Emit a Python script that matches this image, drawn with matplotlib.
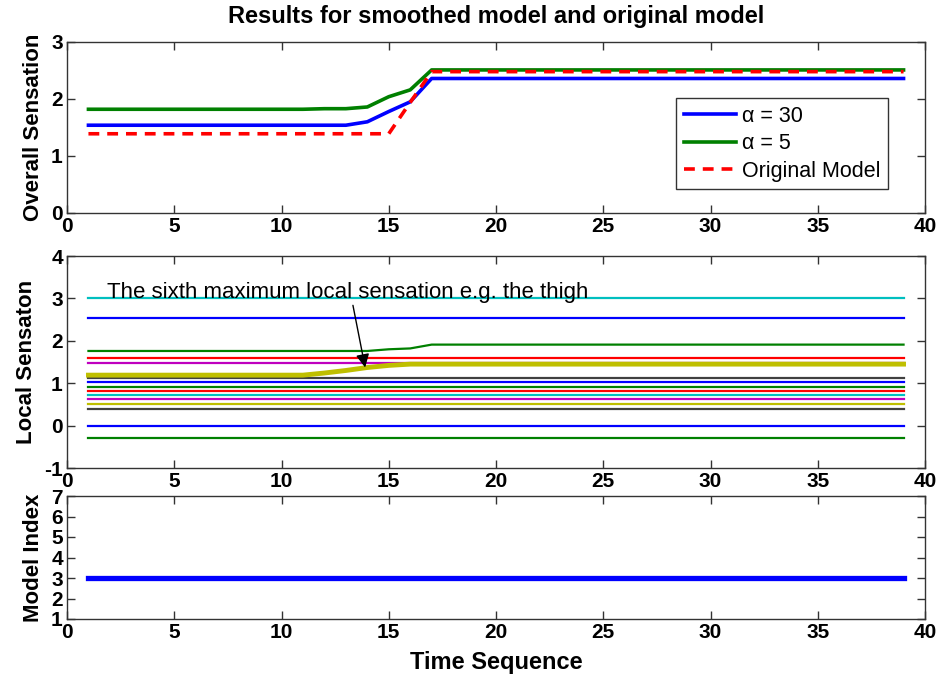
import numpy as np
import matplotlib
matplotlib.use("Agg")
import matplotlib.pyplot as plt

plt.rcParams['font.family'] = ['Liberation Sans', 'DejaVu Sans']
plt.rcParams['font.weight'] = 'bold'
plt.rcParams['axes.unicode_minus'] = False

# MATLAB-style colours
C_B = (0, 0, 1)
C_G = (0, 0.5, 0)
C_R = (1, 0, 0)
C_C = (0, 0.75, 0.75)
C_M = (0.75, 0, 0.75)
C_Y = (0.75, 0.75, 0)
C_K = (0.25, 0.25, 0.25)

t_span = [1, 39]

# --- top panel: overall sensation ---
a30_t = [1, 13, 14, 15, 16, 17, 39]
a30_v = [1.54, 1.54, 1.60, 1.78, 1.95, 2.36, 2.36]
a5_t = [1, 11, 12, 13, 14, 15, 16, 17, 39]
a5_v = [1.82, 1.82, 1.83, 1.83, 1.86, 2.04, 2.16, 2.51, 2.51]
orig_t = [1, 15, 16, 17, 39]
orig_v = [1.39, 1.39, 1.94, 2.48, 2.48]

# --- middle panel: local sensation ---
flat_levels = [3.02, 2.53, 1.60, 1.48, 1.12, 1.03, 0.90, 0.81, 0.71, 0.62, 0.50, 0.40, 0.0, -0.30]
flat_colors = [C_C, C_B, C_R, C_M, C_K, C_B, C_G, C_R, C_C, C_M, C_Y, C_K, C_B, C_G]
green_t = [1, 14, 15, 16, 17, 39]
green_v = [1.76, 1.76, 1.80, 1.82, 1.91, 1.91]
thigh_t = [1, 11, 12, 13, 14, 15, 16, 39]
thigh_v = [1.19, 1.19, 1.24, 1.30, 1.37, 1.42, 1.45, 1.45]

# --- bottom panel: model index ---
model_idx = [3, 3]

fig = plt.figure(figsize=(9.36, 6.78), dpi=100)
W = 936.0
H = 678.0
def box(l, t, r, b):
    return [l / W, 1 - b / H, (r - l) / W, (b - t) / H]

ax1 = fig.add_axes(box(67, 42, 925, 213))
ax2 = fig.add_axes(box(67, 256, 925, 468))
ax3 = fig.add_axes(box(67, 496, 925, 619))

for ax in (ax1, ax2, ax3):
    ax.set_xlim(0, 40)
    ax.set_xticks(range(0, 41, 5))
    ax.tick_params(direction='in', top=True, right=True, length=6, width=1,
                   labelsize=15, pad=3, color='0.2')
    for s in ax.spines.values():
        s.set_color('0.2')
        s.set_linewidth(1)

# top
ax1.plot(a30_t, a30_v, color=C_B, lw=2.6, label='α = 30')
ax1.plot(a5_t, a5_v, color=C_G, lw=2.6, label='α = 5')
ax1.plot(orig_t, orig_v, color=C_R, lw=2.6, dashes=(3, 2.2), label='Original Model')
ax1.set_ylim(0, 3)
ax1.set_yticks([0, 1, 2, 3])
ax1.set_ylabel('Overall Sensation', fontsize=16, fontweight='bold', labelpad=5)
ax1.set_title('Results for smoothed model and original model', fontsize=17,
              fontweight='bold', pad=14)
leg = ax1.legend(loc='upper right', bbox_to_anchor=(0.957, 0.67),
                 prop={'weight': 'normal', 'size': 15.5}, fancybox=False, framealpha=1,
                 edgecolor='0.2', handlelength=2.4, labelspacing=0.3, borderpad=0.35,
                 handletextpad=0.3, borderaxespad=0)
leg.get_frame().set_linewidth(1)

# middle
for lev, col in zip(flat_levels, flat_colors):
    ax2.plot(t_span, [lev, lev], color=col, lw=1.6)
ax2.plot(green_t, green_v, color=C_G, lw=1.6)
ax2.plot(thigh_t, thigh_v, color=C_Y, lw=3.5)
ax2.set_ylim(-1, 4)
ax2.set_yticks(range(-1, 5))
ax2.set_ylabel('Local Sensaton', fontsize=16, fontweight='bold', labelpad=5)
ax2.annotate('The sixth maximum local sensation e.g. the thigh',
             xy=(13.9, 1.37), xytext=(1.86, 3.02), fontsize=16, fontweight='normal',
             va='baseline', ha='left',
             arrowprops=dict(arrowstyle='-|>', color='k', lw=1, mutation_scale=20,
                             shrinkA=0, shrinkB=0, relpos=(0.51, 0)))

# bottom
ax3.plot(t_span, model_idx, color=C_B, lw=3.8)
ax3.set_ylim(1, 7)
ax3.set_yticks(range(1, 8))
ax3.set_ylabel('Model Index', fontsize=16, fontweight='bold', labelpad=5)
ax3.set_xlabel('Time Sequence', fontsize=17, fontweight='bold', labelpad=6)

fig.savefig('out.png', dpi=100)
